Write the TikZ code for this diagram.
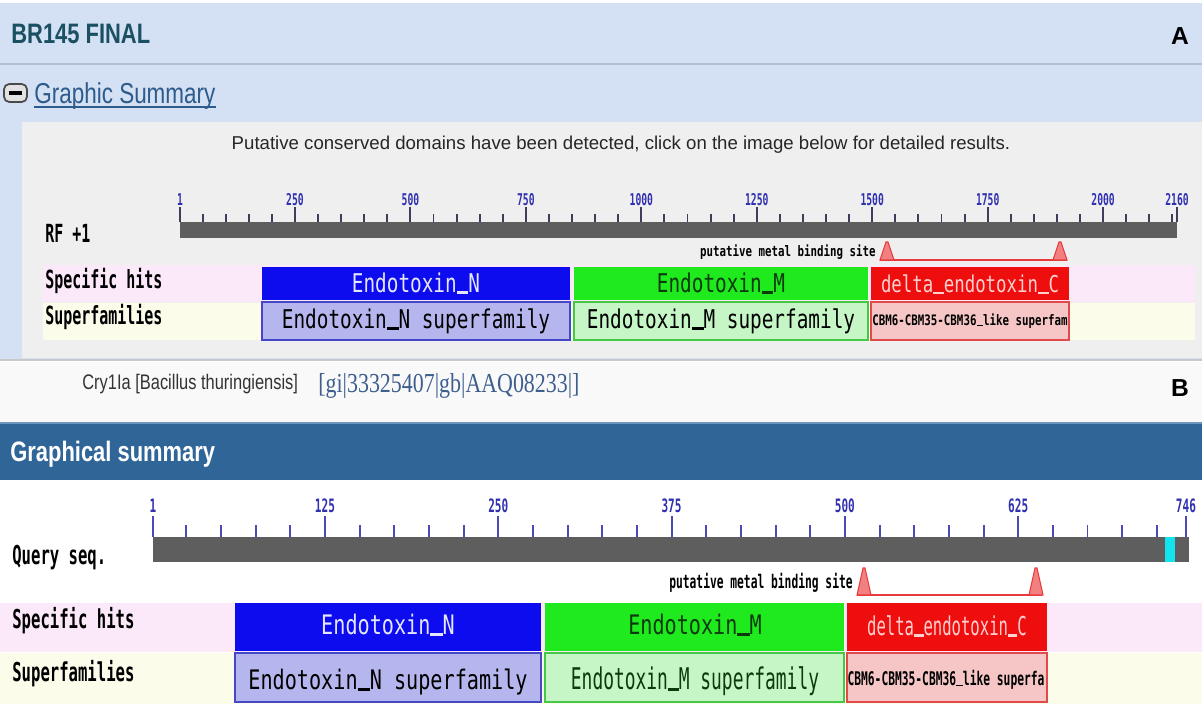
\documentclass[tikz,border=0pt]{standalone}
\usepackage{fontspec}
\setmainfont{Liberation Sans}
\newfontfamily\pagesans{Liberation Sans}[FakeStretch=0.78]
\newfontfamily\pageserif{Liberation Serif}[FakeStretch=0.8]
\newfontfamily\cddmono{DejaVu Sans Mono}[FakeStretch=0.75]
\newfontfamily\cddnarrow{DejaVu Sans Mono}[FakeStretch=0.6]
\newcommand\setfs[1]{\fontsize{#1}{#1}\selectfont}
\newcommand\usc{\setbox0\hbox{x}\rule[-0.07em]{\wd0}{0.09em}}
\usetikzlibrary{calc}
\definecolor{PanelBlue}{HTML}{D4E0F3}
\definecolor{PanelLine}{HTML}{B2C0D6}
\definecolor{PanelGray}{HTML}{EFEFEF}
\definecolor{SepGray}{HTML}{C8C8C8}
\definecolor{TitleTeal}{HTML}{1B4F62}
\definecolor{LinkBlue}{HTML}{2D5B8B}
\definecolor{IconGray}{HTML}{E2E2E2}
\definecolor{IconEdge}{HTML}{4A4A4A}
\definecolor{HitPink}{HTML}{FBE9FA}
\definecolor{FamCream}{HTML}{FCFCEA}
\definecolor{BarGray}{HTML}{5E5E5E}
\definecolor{TickDark}{HTML}{3E3E5A}
\definecolor{TickBlue}{HTML}{4A4AB8}
\definecolor{NumBlue}{HTML}{3030B0}
\definecolor{NBlue}{HTML}{0C0CEE}
\definecolor{NBlueLt}{HTML}{B6B6EE}
\definecolor{NBlueEdge}{HTML}{4646C8}
\definecolor{NText}{HTML}{E4E6FF}
\definecolor{MGreen}{HTML}{1EEA1E}
\definecolor{MGreenLt}{HTML}{C6F6C6}
\definecolor{MGreenEdge}{HTML}{46C846}
\definecolor{MText}{HTML}{0C3A0C}
\definecolor{CRed}{HTML}{EE0E0E}
\definecolor{CRedLt}{HTML}{F6C6C6}
\definecolor{CRedEdge}{HTML}{E04A4A}
\definecolor{CText}{HTML}{FFD0D0}
\definecolor{SiteRed}{HTML}{E83A3A}
\definecolor{SiteFill}{HTML}{F28080}
\definecolor{CyanMark}{HTML}{12E4EE}
\definecolor{PageWhite}{HTML}{F9F9F9}
\definecolor{CryGray}{HTML}{333333}
\definecolor{AccSlate}{HTML}{3E5E8E}
\definecolor{BandBlue}{HTML}{2F6597}
\definecolor{BandEdge}{HTML}{6E95BE}
\tikzset{
    txt/.style = {inner sep=0pt, anchor=base west},
    ctxt/.style = {inner sep=0pt, anchor=base},
    panelmark/.style = {ctxt, font=\bfseries\setfs{14}},
    tickA/.style = {draw=TickDark, line width=1.1pt},
    tickB/.style = {draw=TickBlue, line width=1.1pt},
    numA/.style = {ctxt, text=NumBlue, font=\cddnarrow\bfseries\setfs{9.2}},
    numB/.style = {ctxt, text=NumBlue, font=\cddnarrow\bfseries\setfs{10.5}},
    rowA/.style = {txt, font=\cddnarrow\bfseries\setfs{14.2}},
    rowB/.style = {txt, font=\cddnarrow\bfseries\setfs{14.8}},
    hitA/.style = {ctxt, font=\cddmono\setfs{14.7}},
    hitB/.style = {ctxt, font=\cddmono\setfs{15.3}},
    smallA/.style = {inner sep=0pt, font=\cddmono\bfseries\setfs{8.2}},
    smallB/.style = {inner sep=0pt, font=\cddnarrow\bfseries\setfs{10.7}},
    site/.style = {draw=SiteRed, line width=1.6pt},
    sitetip/.style = {draw=SiteRed, fill=SiteFill, line width=0.6pt}
}
\begin{document}
\begin{tikzpicture}[x=0.02cm, y=-0.02cm]
\useasboundingbox (0,0) rectangle (1202,704);
\fill[PanelBlue] (0,0) rectangle (1202,360);
\fill[white] (0,0) rectangle (1202,3);
\draw[PanelLine, line width=1.2pt] (0,64) -- (1202,64);
\node[txt, font=\pagesans\bfseries\setfs{16}, text=TitleTeal] (title) at (11,43) {BR145 FINAL};
\node[panelmark] (markA) at (1180,44) {A};
\draw[fill=IconGray, draw=IconEdge, line width=1pt, rounded corners=3pt] (4,84) rectangle (27,102);
\draw[line width=1.8pt] (9,93) -- (22,93);
\node[txt, font=\pagesans\setfs{16.4}, text=LinkBlue] (gsum) at (34,103) {Graphic Summary};
\draw[LinkBlue, line width=0.8pt] ($(gsum.base west)+(0,4)$) -- ($(gsum.base east)+(0,4)$);
\fill[PanelGray] (22,122) rectangle (1202,358);
\draw[SepGray, line width=1.2pt] (0,360) -- (1202,360);
\node[ctxt, font=\setfs{10.6}, text=black!85] (note) at (621,149) {Putative conserved domains have been detected, click on the image below for detailed results.};
\fill[BarGray] (180,222) rectangle (1177,238);
\foreach \p in {50,100,...,2150}
    \draw[tickA] ({180+(\p-1)*0.46179},222) -- ++(0,-8);
\foreach \p in {1,250,500,750,1000,1250,1500,1750,2000,2160} {
    \draw[tickA] ({180+(\p-1)*0.46179},222) -- ++(0,-15);
    \node[numA] (ra\p) at ({180+(\p-1)*0.46179},205) {\p};
}
\node[rowA] (rf) at (45,242) {RF +1};
\fill[HitPink] (43,265) rectangle (1195,302);
\fill[FamCream] (43,303) rectangle (1195,340);
\node[rowA] (hitsA) at (45,288) {Specific hits};
\node[rowA] (famsA) at (45,324) {Superfamilies};
\node[smallA, anchor=base east] (siteA) at (876,256) {putative metal binding site};
\draw[site] (880,260) -- (1067,260);
\foreach \x in {887,1060}
    \filldraw[sitetip] (\x-7,260) -- (\x-1,242) -- (\x+1,242) -- (\x+7,260) -- cycle;
\fill[NBlue] (262,267) rectangle (570,300);
\node[hitA, text=NText] (hitNa) at (416,292) {Endotoxin\usc N};
\draw[fill=NBlueLt, draw=NBlueEdge, line width=1pt] (262,302) rectangle (570,340);
\node[hitA] (famNa) at (416,328) {Endotoxin\usc N superfamily};
\fill[MGreen] (574,267) rectangle (868,300);
\node[hitA, text=MText] (hitMa) at (721,292) {Endotoxin\usc M};
\draw[fill=MGreenLt, draw=MGreenEdge, line width=1pt] (574,302) rectangle (868,340);
\node[hitA] (famMa) at (721,328) {Endotoxin\usc M superfamily};
\fill[CRed] (871,267) rectangle (1069,300);
\node[hitA, font=\cddmono\setfs{13.2}, text=CText] (hitCa) at (970,292) {delta\usc endotoxin\usc C};
\draw[fill=CRedLt, draw=CRedEdge, line width=1pt] (871,302) rectangle (1069,340);
\node[smallA, anchor=base] (famCa) at (970,325) {CBM6-CBM35-CBM36\usc like superfam};
\fill[PageWhite] (0,362) rectangle (1202,422);
\node[txt, font=\pagesans\setfs{12}, text=CryGray] (cry) at (82,389) {Cry1Ia [Bacillus thuringiensis]};
\node[txt, font=\pageserif\setfs{15.6}, text=AccSlate] (acc) at (318,392) {[gi|33325407|gb|AAQ08233|]};
\node[panelmark] (markB) at (1180,396) {B};
\fill[BandBlue] (0,422) rectangle (1202,480);
\draw[BandEdge, line width=1pt] (0,423) -- (1202,423);
\node[txt, font=\pagesans\bfseries\setfs{16}, text=white] (gsumB) at (10,461) {Graphical summary};
\fill[BarGray] (153,537) rectangle (1189,562);
\fill[CyanMark] (1165,537) rectangle (1175,562);
\foreach \p in {25,50,...,725}
    \draw[tickB] ({153+(\p-1)*1.3865},537) -- ++(0,-12);
\foreach \p in {1,125,250,375,500,625,746} {
    \draw[tickB] ({153+(\p-1)*1.3865},537) -- ++(0,-21);
    \node[numB] (rb\p) at ({153+(\p-1)*1.3865},512) {\p};
}
\node[rowB] (query) at (12,564) {Query seq.};
\node[smallB, anchor=base east] (siteB) at (853,588) {putative metal binding site};
\draw[site] (857,595) -- (1042,595);
\foreach \x in {864,1036}
    \filldraw[sitetip] (\x-7,595) -- (\x-1,568) -- (\x+1,568) -- (\x+7,595) -- cycle;
\fill[HitPink] (0,603) rectangle (1202,652);
\fill[FamCream] (0,653) rectangle (1202,704);
\node[rowB] (hitsB) at (12,628) {Specific hits};
\node[rowB] (famsB) at (12,681) {Superfamilies};
\fill[NBlue] (235,603) rectangle (541,651);
\node[hitB, text=NText] (hitNb) at (388,634) {Endotoxin\usc N};
\draw[fill=NBlueLt, draw=NBlueEdge, line width=1pt] (235,653) rectangle (541,702);
\node[hitB] (famNb) at (388,689) {Endotoxin\usc N superfamily};
\fill[MGreen] (545,603) rectangle (844,651);
\node[hitB, text=MText] (hitMb) at (695,634) {Endotoxin\usc M};
\draw[fill=MGreenLt, draw=MGreenEdge, line width=1pt] (545,653) rectangle (844,702);
\node[hitB, font=\cddnarrow\setfs{17}, text=MText] (famMb) at (695,689) {Endotoxin\usc M superfamily};
\fill[CRed] (847,603) rectangle (1047,651);
\node[hitB, font=\cddnarrow\setfs{14.8}, text=CText] (hitCb) at (947,635) {delta\usc endotoxin\usc C};
\draw[fill=CRedLt, draw=CRedEdge, line width=1pt] (847,653) rectangle (1047,702);
\node[smallB, anchor=base] (famCb) at (946,685) {CBM6-CBM35-CBM36\usc like superfa};
\end{tikzpicture}
\end{document}
